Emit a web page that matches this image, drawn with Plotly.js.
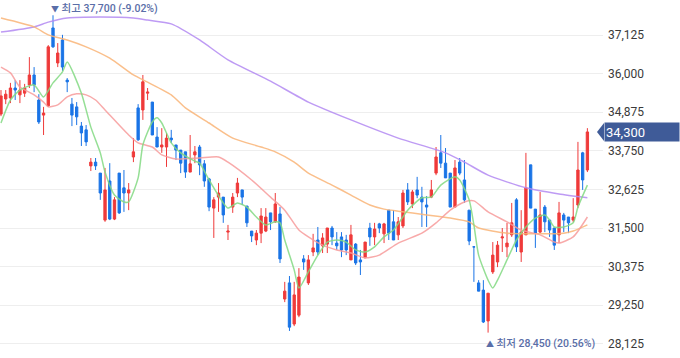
<!DOCTYPE html>
<html><head><meta charset="utf-8">
<script src="https://cdn.plot.ly/plotly-3.0.1.min.js"></script>
<style>html,body{margin:0;padding:0;background:#fff;}#chart{width:680px;height:358px;}</style>
</head><body><div id="chart"></div>
<script>
// Daily candles (index 0..124)
const openP  = [34820,35260,35290,35580,35380,35430,35670,35960,35230,34790,35060,37330,36310,36980,35810,35110,35030,34470,34360,33310,33420,33100,31730,32870,31760,33100,32670,32520,33570,35000,34940,35430,35170,34150,33860,33860,34120,33920,33770,33720,33130,33630,33860,33370,32930,32080,32400,32400,31380,32110,32520,32610,32140,31410,31150,31350,31410,31940,31680,31910,29430,29900,28700,28960,30600,29900,30800,31150,30980,31030,31500,31060,31240,31150,30570,31030,30570,30630,31500,31240,31620,31330,32020,31680,31300,31560,32610,32200,32610,32400,32170,32400,33100,33690,33390,33100,32110,33420,32900,32020,30950,29900,29690,28790,30220,30510,31210,30950,31300,32320,30800,31300,33340,32050,31380,32110,31730,31500,31300,31880,31820,31730,32170,33690,33190];
const highP  = [35520,35520,35730,35810,35810,35700,36480,36190,35400,35030,36830,37700,36890,37130,35870,35290,35170,34590,34500,33540,33540,33100,33250,33390,32400,33100,33190,32810,34120,35110,35960,35580,35170,34440,34410,34270,34360,33920,33770,33720,34210,33890,33920,33480,32960,32400,32810,32400,31590,32520,32960,32610,32140,31410,31440,32080,32080,31940,32520,32110,29930,30100,29930,30330,30710,30710,31330,31530,31350,31500,31560,31380,31380,31300,31590,31060,30860,31090,31650,31650,31650,31650,32020,32020,31820,32610,32810,32610,32990,32700,32430,32900,33860,34210,33830,33100,33480,33540,33480,32020,30950,29980,29980,29600,31090,31120,31500,31650,32230,32370,32020,33690,33340,32050,32550,32170,31730,31500,32260,31940,31820,32370,34010,33720,34410];
const lowP   = [34760,35110,35140,35230,35140,35320,35580,35460,34530,34210,35030,36750,36190,36080,35460,34470,34500,33890,33890,33160,33190,32320,31680,31730,31730,31910,31970,32020,33420,34040,34650,35230,34210,33860,33690,33280,33980,33480,33100,32960,33130,33390,33040,32700,31990,31210,31970,31650,31150,31940,32400,32170,31530,31090,31000,31060,31380,31440,31650,30480,29340,28500,28640,28900,30280,29840,30680,30710,30770,30770,31000,30860,30650,30710,30570,30420,30130,30630,30980,31000,31350,31060,31150,31150,31150,31500,32170,32080,32370,31530,31530,32370,33040,33250,32960,32110,32110,33040,32230,31000,29930,29660,28730,28450,30160,30360,30800,30650,31240,30800,30510,31300,32080,30920,31350,31380,31240,30860,31060,31380,31350,31670,32080,32610,33130];
const closeP = [35350,35400,35580,35520,35520,35580,35960,35670,34590,34850,36780,36780,36600,36190,35760,34790,34740,34270,34010,33420,33310,32520,32610,31760,32320,31940,32520,32610,33720,34070,35760,35460,34210,33860,33920,34120,34070,33770,33390,33130,33370,33720,33340,32870,32110,32320,32520,31880,31410,32400,32810,32400,31650,31270,31350,31850,31820,31680,32200,30600,29660,28610,29550,30070,30510,30570,30920,30800,31210,31500,31240,30980,30860,30860,31300,30480,30510,31090,31240,31470,31500,31620,31350,31150,31680,32520,32260,32550,32460,32260,32110,32610,33570,33390,32960,32110,33250,33100,32320,31120,30950,29660,28760,29600,30710,31000,31240,31060,31650,30950,31380,32670,32080,31350,31880,31680,31440,31000,31940,31730,31650,31820,33190,32900,34300];

// Moving averages (index, value)
const ma5Idx   = [0,2,4,7,9,11,13,14,17,19,21,22,24,26,27,29,30,32,33,34,36,38,41,42,44,47,48,50,52,54,56,58,59,60,62,63,65,67,69,71,73,75,77,79,81,83,84,86,89,91,93,96,97,99,100,101,103,104,105,107,109,111,113,115,116,117,119,121,122,124];
const ma5Val   = [34560,35230,35520,35670,35320,35730,36050,36340,35430,34440,33690,33130,32460,32260,32260,32960,33920,34590,34710,34560,33980,33690,33450,33390,32900,32230,32080,32230,32110,31820,31590,31680,31650,31150,30280,29750,30220,30710,31090,31150,31090,30860,30800,30950,31240,31440,31620,32020,32380,32400,32750,32990,32900,32320,31590,30710,29980,29750,29980,30570,31150,31530,31790,31880,31730,31530,31530,31650,32110,32750];
const ma20Idx  = [0,2,4,7,9,10,12,14,16,18,20,22,27,29,32,34,37,42,46,48,53,57,60,63,65,68,71,74,77,80,84,89,92,95,98,100,103,107,110,114,117,118,121,124];
const ma20Val  = [36190,36020,35610,35380,35170,35030,35090,35320,35410,35380,35230,34940,34210,33980,33860,33630,33510,33540,33570,33420,32900,32400,32020,31440,31240,31000,30860,30770,30630,30710,31060,31350,31650,32020,32260,32290,31970,31680,31440,31300,31090,31060,31240,31820];
const ma60Idx  = [0,7,10,14,18,23,28,31,36,39,44,49,55,58,62,65,70,74,78,81,84,90,95,99,101,107,114,119,121,124];
const ma60Val  = [37620,37360,37130,36980,36780,36450,35960,35750,35380,35000,34560,34120,33860,33720,33420,33100,32750,32460,32170,32050,31990,31880,31790,31680,31500,31350,31330,31350,31410,31590];
const ma120Idx = [0,7,10,14,21,28,31,36,42,48,57,65,74,84,94,98,103,111,118,124];
const ma120Val = [37210,37360,37500,37620,37650,37620,37560,37450,36980,36400,35780,35170,34650,34120,33690,33420,33040,32670,32490,32380];

const yTicks = [28125,29250,30375,31500,32625,33750,34875,36000,37125];
const hiLabel = '<span style="font-size:8px">▼</span> 최고 37,700 (-9.02%)';
const loLabel = '<span style="font-size:8px">▲</span> 최저 28,450 (20.56%)';

const idx = closeP.map((_, i) => i);
const RED = '#ef3a3a', BLUE = '#1a74e6';
const Y0 = 27711, Y1 = 38145;

function maTrace(x, y, color) {
  return {type:'scatter', mode:'lines', x:x, y:y, hoverinfo:'skip',
    line:{color:color, width:1.5, shape:'spline', smoothing:0.6}, opacity:0.85};
}
const traces = [
  {type:'candlestick', x:idx, open:openP, high:highP, low:lowP, close:closeP,
   increasing:{line:{color:RED, width:1}, fillcolor:RED},
   decreasing:{line:{color:BLUE, width:1}, fillcolor:BLUE},
   whiskerwidth:0, hoverinfo:'skip'},
  maTrace(ma120Idx, ma120Val, '#b38af2'),
  maTrace(ma60Idx, ma60Val, '#f9b477'),
  maTrace(ma20Idx, ma20Val, '#f79b9b'),
  maTrace(ma5Idx, ma5Val, '#82d982'),
];

const hiI = highP.indexOf(Math.max(...highP));
const loI = lowP.indexOf(Math.min(...lowP));
const last = closeP[closeP.length - 1];
const wonPerPx = (Y1 - Y0) / 358;
const plotW = 603;
const tip = 1 - 6/plotW, base = 1 + 1/plotW;
const tagPath = `M ${tip},${last} L ${base},${last + 9*wonPerPx} L ${base},${last - 9*wonPerPx} Z`;
const lblFont = {family:'Roboto, "Noto Sans CJK KR", sans-serif', size:10.5, weight:500, color:'#5a6ea8'};

const layout = {
  width:680, height:358, margin:{l:0, r:77, t:0, b:0},
  paper_bgcolor:'#fff', plot_bgcolor:'#fff', showlegend:false,
  xaxis:{range:[-0.21, 127.3], visible:false, rangeslider:{visible:false}, fixedrange:true},
  yaxis:{range:[Y0, Y1], side:'right', tickvals:yTicks, tickformat:',d',
    showgrid:true, gridcolor:'#eeeeee', gridwidth:1, zeroline:false, showline:false,
    ticks:'', ticklabelstandoff:4,
    tickfont:{family:'Roboto, "Noto Sans", sans-serif', size:12, color:'#3a3a3a'}},
  boxgap:0.3,
  shapes:[{type:'path', xref:'paper', yref:'y', path:tagPath, fillcolor:'#3f5b98', line:{width:0}}],
  annotations:[
    {x:hiI, y:highP[hiI], xref:'x', yref:'y', text:hiLabel, showarrow:false,
     xanchor:'left', yanchor:'middle', xshift:-4, yshift:7, font:lblFont},
    {x:loI, y:lowP[loI], xref:'x', yref:'y', text:loLabel, showarrow:false,
     xanchor:'left', yanchor:'middle', xshift:-4, yshift:-11, font:lblFont},
    {x:1, y:last, xref:'paper', yref:'y', text:last.toLocaleString('en-US'), showarrow:false,
     xanchor:'left', yanchor:'middle', xshift:1, width:72, height:16, align:'left',
     bgcolor:'#3f5b98', borderpad:1,
     font:{family:'Roboto, "Noto Sans", sans-serif', size:13, color:'#ffffff'}}
  ]
};
Plotly.newPlot('chart', traces, layout, {displayModeBar:false, staticPlot:true});
</script></body></html>
